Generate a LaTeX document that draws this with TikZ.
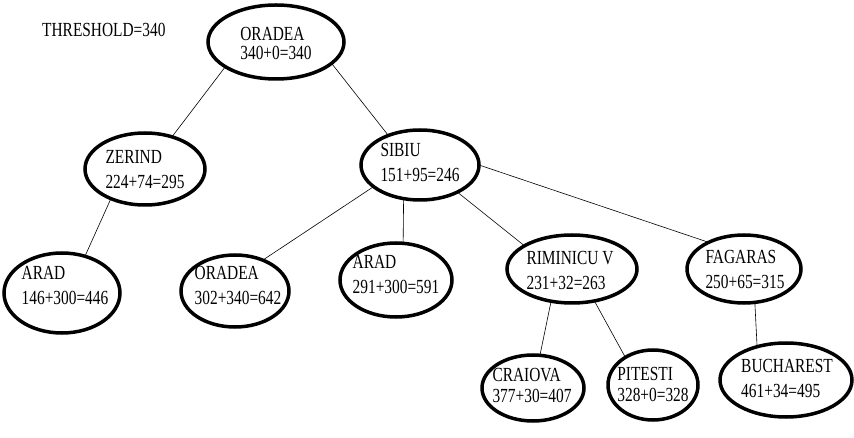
\documentclass[tikz,border=0pt]{standalone}
\usepackage{fontspec}
\setmainfont[FakeStretch=0.77]{Liberation Serif}
\usetikzlibrary{shapes.geometric}

\begin{document}
\begin{tikzpicture}[x=1pt,y=-1pt,font=\fontsize{20}{25}\selectfont,
 st/.style={draw,ellipse,line width=3.5pt,inner sep=0pt,outer sep=0pt},
 tx/.style={align=left,inner sep=0pt},ed/.style={line width=0.6pt}]
\useasboundingbox (0,0) rectangle (854,438);
\node[anchor=west,inner sep=0pt] (th) at (42,30) {THRESHOLD=340};
% root
\node[st,minimum width=136,minimum height=74] (o1) at (276,42) {};
\node[tx] (o1t) at (276,43) {ORADEA\\[-6pt]340+0=340};
% second level
\node[st,minimum width=120,minimum height=72] (z) at (145,169) {};
\node[tx] (zt) at (145,170) {ZERIND\\224+74=295};
\node[st,minimum width=118,minimum height=70] (s) at (420,165) {};
\node[tx] (st) at (420,162) {SIBIU\\151+95=246};
% third level
\node[st,minimum width=116,minimum height=80] (a1) at (62,293) {};
\node[tx] (a1t) at (65,285) {ARAD\\146+300=446};
\node[st,minimum width=108,minimum height=72] (o2) at (235,291) {};
\node[tx] (o2t) at (238,285) {ORADEA\\302+340=642};
\node[st,minimum width=112,minimum height=74] (a2) at (396,280) {};
\node[tx] (a2t) at (396,274) {ARAD\\291+300=591};
\node[st,minimum width=130,minimum height=68] (r) at (572,269) {};
\node[tx] (rt) at (570,270) {RIMINICU V\\231+32=263};
\node[st,minimum width=114,minimum height=68] (f) at (744,269) {};
\node[tx] (ft) at (745,269) {FAGARAS\\250+65=315};
% fourth level
\node[st,minimum width=102,minimum height=66] (c) at (533,388) {};
\node[tx] (ct) at (532,385) {CRAIOVA\\[-4pt]377+30=407};
\node[st,minimum width=90,minimum height=70] (p) at (653,385) {};
\node[tx] (pt) at (653,384) {PITESTI\\[-4pt]328+0=328};
\node[st,minimum width=132,minimum height=74] (b) at (786,380) {};
\node[tx] (bt) at (787,378) {BUCHAREST\\461+34=495};
% edges
\draw[ed] (o1.206) -- (z.50);
\draw[ed] (o1.339) -- (s.137);
\draw[ed] (z.221) -- (a1.58);
\draw[ed] (s.205) -- (o2.48);
\draw[ed] (s.244) -- (a2.79);
\draw[ed] (s.324) -- (r.154);
\draw[ed] (s.0) -- (f.143);
\draw[ed] (r.237) -- (c.78);
\draw[ed] (r.305) -- (p.135);
\draw[ed] (f.288) -- (b.131);
\end{tikzpicture}
\end{document}
